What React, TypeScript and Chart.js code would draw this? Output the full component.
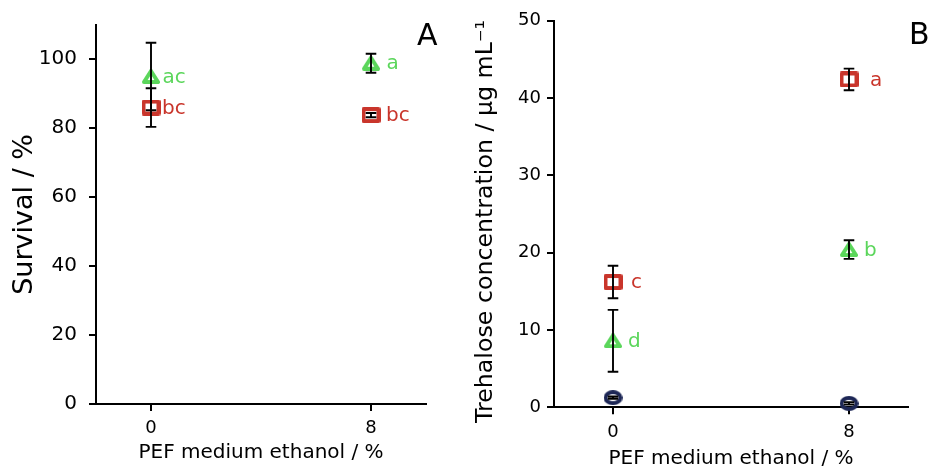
import React, { useEffect, useRef } from 'react';
import { Chart, registerables } from 'chart.js';

Chart.register(...registerables);

// ---------------- data ----------------
const xValues = [0, 8];
const xTickValues = [0, 8];
const survivalTicks = [0, 20, 40, 60, 80, 100];
const trehaloseTicks = [0, 10, 20, 30, 40, 50];

const survivalSquare = [86, 83.8];
const survivalSquareSd = [5.6, 0.6];
const survivalSquareLetters = ['bc', 'bc'];
const survivalTriangle = [95, 98.85];
const survivalTriangleSd = [9.8, 2.75];
const survivalTriangleLetters = ['ac', 'a'];

const trehaloseSquare = [16.2, 42.4];
const trehaloseSquareSd = [2.1, 1.4];
const trehaloseSquareLetters = ['c', 'a'];
const trehaloseTriangle = [8.6, 20.4];
const trehaloseTriangleSd = [4.0, 1.2];
const trehaloseTriangleLetters = ['d', 'b'];
const trehaloseCircle = [1.25, 0.5];
const trehaloseCircleSd = [0.15, 0.15];

// ---------------- style ----------------
const FONT = '"DejaVu Sans", Verdana, sans-serif';
const RED = '#c9352b';
const GREEN = '#5bd65b';
const NAVY = '#1d2756';

function makeMarker(kind: string, color: string): HTMLCanvasElement {
  const c = document.createElement('canvas');
  const lw = 4;
  if (kind === 'square') { c.width = 19; c.height = 16; }
  else if (kind === 'circle') { c.width = 19; c.height = 15; }
  else { c.width = 18; c.height = 15; }
  const ctx = c.getContext('2d')!;
  ctx.strokeStyle = color;
  ctx.lineWidth = lw;
  ctx.lineJoin = 'round';
  ctx.beginPath();
  if (kind === 'square') {
    ctx.rect(lw / 2, lw / 2, c.width - lw, c.height - lw);
  } else if (kind === 'circle') {
    ctx.ellipse(c.width / 2, c.height / 2, (c.width - lw) / 2, (c.height - lw) / 2, 0, 0, Math.PI * 2);
  } else {
    ctx.moveTo(c.width / 2, lw / 2);
    ctx.lineTo(c.width - lw / 2, c.height - lw / 2);
    ctx.lineTo(lw / 2, c.height - lw / 2);
    ctx.closePath();
  }
  ctx.stroke();
  return c;
}

type Series = { values: number[]; sd: number[]; letters?: string[]; color: string; dx?: number[] };

function annotPlugin(series: Series[], panel: string, panelX: number, panelY: number) {
  return {
    id: 'annot' + panel,
    afterDatasetsDraw(chart: any) {
      const { ctx, scales } = chart;
      const xs = scales.x;
      const ys = scales.y;
      ctx.save();
      ctx.strokeStyle = '#000';
      ctx.lineWidth = 1.9;
      series.forEach((s) => {
        s.values.forEach((v, i) => {
          const px = xs.getPixelForValue(xValues[i]);
          const top = ys.getPixelForValue(v + s.sd[i]);
          const bot = ys.getPixelForValue(v - s.sd[i]);
          ctx.beginPath();
          ctx.moveTo(px, top); ctx.lineTo(px, bot);
          ctx.moveTo(px - 5.3, top); ctx.lineTo(px + 5.3, top);
          ctx.moveTo(px - 5.3, bot); ctx.lineTo(px + 5.3, bot);
          ctx.stroke();
        });
      });
      ctx.font = `20px ${FONT}`;
      ctx.textBaseline = 'middle';
      ctx.textAlign = 'left';
      series.forEach((s) => {
        if (!s.letters) return;
        ctx.fillStyle = s.color;
        s.letters.forEach((t, i) => {
          const px = xs.getPixelForValue(xValues[i]);
          const py = ys.getPixelForValue(s.values[i]);
          ctx.fillText(t, px + (s.dx ? s.dx[i] : 12), py + 1);
        });
      });
      ctx.fillStyle = '#000';
      ctx.font = `30px ${FONT}`;
      ctx.textBaseline = 'alphabetic';
      ctx.fillText(panel, panelX, panelY);
      ctx.restore();
    },
  };
}

function axisX(height: number) {
  return {
    type: 'linear',
    min: -2,
    max: 10,
    afterBuildTicks: (s: any) => { s.ticks = xTickValues.map((v) => ({ value: v })); },
    afterFit: (s: any) => { s.height = height; },
    grid: { drawOnChartArea: false, drawTicks: true, tickLength: 7, color: '#000', lineWidth: 2 },
    border: { display: true, color: '#000', width: 2 },
    ticks: { font: { family: FONT, size: 18 }, color: '#000', padding: 7 },
  };
}

function axisY(max: number, ticks: number[], width: number, tickSize: number, tickPad: number) {
  return {
    type: 'linear',
    min: 0,
    max,
    afterBuildTicks: (s: any) => { s.ticks = ticks.map((v) => ({ value: v })); },
    afterFit: (s: any) => { s.width = width; },
    grid: { drawOnChartArea: false, drawTicks: true, tickLength: 7, color: '#000', lineWidth: 2 },
    border: { display: true, color: '#000', width: 2 },
    ticks: { font: { family: FONT, size: tickSize }, color: '#000', padding: tickPad },
  };
}

function ds(values: number[], style: HTMLCanvasElement) {
  return {
    data: xValues.map((x, i) => ({ x, y: values[i] })),
    pointStyle: style,
    pointRadius: 8,
    showLine: false,
    clip: false,
  };
}

export default function App() {
  const refA = useRef<HTMLCanvasElement>(null);
  const refB = useRef<HTMLCanvasElement>(null);

  useEffect(() => {
    const sqRed = makeMarker('square', RED);
    const triGreen = makeMarker('triangle', GREEN);
    const circNavy = makeMarker('circle', NAVY);

    const xA: any = axisX(62);
    xA.title = { display: true, text: 'PEF medium ethanol / %', color: '#000', font: { family: FONT, size: 20, lineHeight: 1.2 }, padding: { top: 0, bottom: 1.5 } };
    const yA: any = axisY(110, survivalTicks, 96, 20, 12);
    yA.title = { display: true, text: 'Survival / %', color: '#000', font: { family: FONT, size: 27, lineHeight: 1.2 }, padding: { top: 9, bottom: 0 } };

    const chartA = new Chart(refA.current!, {
      type: 'scatter',
      data: { datasets: [ds(survivalSquare, sqRed), ds(survivalTriangle, triGreen)] as any },
      options: {
        responsive: false,
        animation: false,
        layout: { padding: { top: 24.8, right: 38, left: 0, bottom: 0 } },
        plugins: { legend: { display: false }, tooltip: { enabled: false } },
        scales: { x: xA, y: yA },
      } as any,
      plugins: [
        annotPlugin(
          [
            { values: survivalSquare, sd: survivalSquareSd, letters: survivalSquareLetters, color: RED, dx: [11, 15] },
            { values: survivalTriangle, sd: survivalTriangleSd, letters: survivalTriangleLetters, color: GREEN, dx: [11.5, 15.5] },
          ],
          'A', 417, 45,
        ),
      ],
    });

    const xB: any = axisX(58.7);
    xB.title = { display: true, text: 'PEF medium ethanol / %', color: '#000', font: { family: FONT, size: 20, lineHeight: 1.2 }, padding: { top: 0, bottom: -5 } };
    const yB: any = axisY(50, trehaloseTicks, 90, 18, 6);
    yB.title = { display: true, text: 'Trehalose concentration / µg mL⁻¹  ', color: '#000', font: { family: FONT, size: 23.7, lineHeight: 1.2 }, padding: { top: 7.5, bottom: 0 } };

    const chartB = new Chart(refB.current!, {
      type: 'scatter',
      data: { datasets: [ds(trehaloseCircle, circNavy), ds(trehaloseSquare, sqRed), ds(trehaloseTriangle, triGreen)] as any },
      options: {
        responsive: false,
        animation: false,
        layout: { padding: { top: 20.7, right: 20, left: 0, bottom: 0 } },
        plugins: { legend: { display: false }, tooltip: { enabled: false } },
        scales: { x: xB, y: yB },
      } as any,
      plugins: [
        annotPlugin(
          [
            { values: trehaloseCircle, sd: trehaloseCircleSd, color: NAVY },
            { values: trehaloseSquare, sd: trehaloseSquareSd, letters: trehaloseSquareLetters, color: RED, dx: [18, 21] },
            { values: trehaloseTriangle, sd: trehaloseTriangleSd, letters: trehaloseTriangleLetters, color: GREEN, dx: [15, 15] },
          ],
          'B', 445, 44,
        ),
      ],
    });

    return () => { chartA.destroy(); chartB.destroy(); };
  }, []);

  return (
    <div style={{ position: 'fixed', left: 0, top: 0, width: 928, height: 466, overflow: 'hidden', background: '#fff' }}>
      <canvas ref={refA} width={464} height={466} style={{ position: 'absolute', left: 0, top: 0, width: 464, height: 466 }} />
      <canvas ref={refB} width={464} height={466} style={{ position: 'absolute', left: 464, top: 0, width: 464, height: 466 }} />
    </div>
  );
}
